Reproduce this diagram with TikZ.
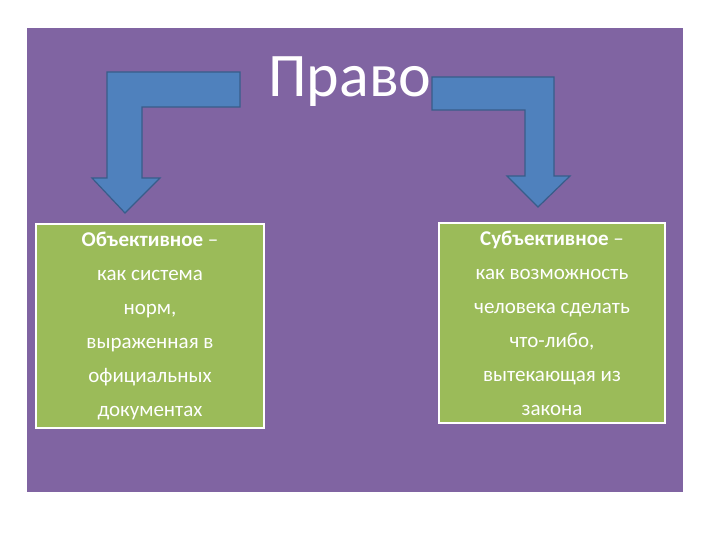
\documentclass[tikz,border=0pt]{standalone}
\usepackage{fontspec}
\setmainfont{Carlito}
\definecolor{bgpurple}{HTML}{8064A2}
\definecolor{boxgreen}{HTML}{9BBB59}
\definecolor{arrblue}{HTML}{4F81BD}
\definecolor{arredge}{HTML}{385D8A}
\begin{document}
\begin{tikzpicture}[x=1pt,y=-1pt,
  arr/.style={fill=arrblue,draw=arredge,line width=1.2pt,line join=miter},
  txtbox/.style={fill=boxgreen,draw=white,line width=2pt,text=white,align=center,
    font=\fontsize{21}{34}\selectfont,inner sep=0pt}]
\useasboundingbox (0,0) rectangle (720,540);
\fill[white] (0,0) rectangle (720,540);
\fill[bgpurple] (27,28) rectangle (683,492);
\draw[arr] (240,72) -- (240,107) -- (142,107) -- (142,178) -- (160,178) -- (125,213)
  -- (92,178) -- (107,178) -- (107,72) -- cycle;
\draw[arr] (432,77) -- (432,110) -- (525,110) -- (525,176) -- (507,176) -- (538,207)
  -- (570,176) -- (554,176) -- (554,77) -- cycle;
\node[text=white,font=\fontsize{62}{62}\selectfont,anchor=base] (title) at (350,97) {Право};
\node[txtbox,minimum width=228,minimum height=204] (left) at (150,326)
  {\textbf{Объективное} –\\как система\\норм,\\выраженная в\\официальных\\документах};
\node[txtbox,minimum width=226,minimum height=200] (right) at (552,323)
  {\textbf{Субъективное} –\\как возможность\\человека сделать\\что-либо,\\вытекающая из\\закона};
\end{tikzpicture}
\end{document}
